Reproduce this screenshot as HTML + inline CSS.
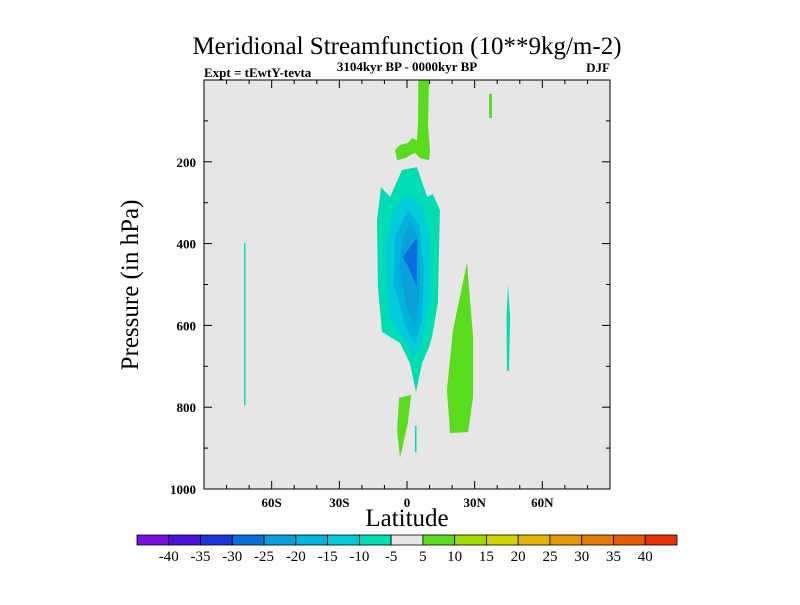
<!DOCTYPE html>
<html><head><meta charset="utf-8"><style>
body{margin:0;background:#fff}
svg text{font-family:"Liberation Serif",serif;fill:#000}
</style></head><body>
<svg id="c" width="800" height="600" viewBox="0 0 800 600">
<text x="407" y="54" font-size="25" text-anchor="middle">Meridional Streamfunction (10**9kg/m-2)</text>
<text x="204" y="77" font-size="13" font-weight="bold">Expt = tEwtY-tevta</text>
<text x="407" y="71" font-size="13" font-weight="bold" text-anchor="middle">3104kyr BP - 0000kyr BP</text>
<text x="610" y="72" font-size="13" font-weight="bold" text-anchor="end">DJF</text>
<rect x="204" y="80" width="406" height="409" fill="#e6e6e6"/>
<g id="fills"></g>
<rect x="204" y="80" width="406" height="409" fill="none" stroke="#000" stroke-width="1"/>
<g id="ticks"></g>
<text x="407" y="526" font-size="25" text-anchor="middle">Latitude</text>
<text transform="translate(138,285) rotate(-90)" font-size="25" text-anchor="middle">Pressure (in hPa)</text>
<g id="cbar"></g>
</svg>
<script>
const levels=[-40,-35,-30,-25,-20,-15,-10,-5,5,10,15,20,25,30,35,40];
const cbarColors=["#7a10dc","#4a10d8","#1e34d8","#0a6edc","#0aa0dc","#00b4dc","#00cdd7","#00dcb4","#e6e6e6","#5adc1e","#a0d800","#d2d200","#e6b400","#e69600","#e67800","#e65a00","#e63200"];
const xTickLats=[-60,-30,0,30,60];
const xTickLabels=["60S","30S","0","30N","60N"];
const yTickVals=[200,400,600,800,1000];
// contour regions: [colorIndex, [[lat,pressure],...]]
const regions=[
 [9,[[5,0],[9.8,0],[9.3,110],[10.2,171],[9.8,196],[5.8,191],[3.5,178],[-0.9,191],[-4.4,196],[-5.3,171],[-3.1,159],[0.4,154],[2.2,142],[4.4,147],[4.9,98]]],
 [9,[[36.4,34],[37.7,34],[37.7,93],[36.4,93]]],
 [7,[[4.4,213],[8.9,286],[11.5,279],[14.6,318],[13.7,545],[11.1,628],[9.8,653],[6.7,692],[4,763],[1.3,692],[-3.1,643],[-11.1,616],[-12.9,506],[-13.3,342],[-11.5,262],[-7.5,286],[-2.2,220]]],
 [6,[[-0.9,280],[6.2,300],[10.2,391],[10.2,538],[6.7,636],[3.1,680],[-0.9,640],[-8,580],[-9.8,416],[-6.2,318]]],
 [5,[[0.4,320],[5.3,350],[7.5,465],[6.7,587],[3.5,645],[-0.9,600],[-5.8,500],[-5.3,379]]],
 [4,[[1.3,345],[4.9,385],[5.8,513],[3.5,610],[0,560],[-3.5,460],[-2.2,391]]],
 [3,[[4.4,386],[4.4,506],[1.3,465],[-1.8,433],[0.4,416]]],
 [9,[[26.6,447],[29.3,628],[29.3,775],[27.1,861],[19.1,863],[17.7,758],[20.4,611]]],
 [7,[[44.8,501],[45.7,580],[45.2,711],[44.3,711],[44.1,580]]],
 [9,[[-3.5,777],[1.8,770],[0.4,838],[-3.1,924],[-4.4,856]]],
 [7,[[3.5,846],[4.2,846],[4.2,910],[3.5,910]]],
 [7,[[-72.2,399],[-71.6,399],[-71.6,795],[-72.2,795]]]
];
const NS="http://www.w3.org/2000/svg";
const X=lat=>407+lat*406/180;
const Y=p=>80+p*409/1000;
function mk(t,a,parent){const e=document.createElementNS(NS,t);for(const k in a)e.setAttribute(k,a[k]);parent.appendChild(e);return e;}
const fills=document.getElementById('fills');
regions.forEach((r,i)=>{
 const pg=mk('polygon',{points:r[1].map(q=>X(q[0]).toFixed(1)+','+Y(q[1]).toFixed(1)).join(' '),fill:cbarColors[r[0]]},fills);
 
 
});
const tk=document.getElementById('ticks');
for(let lat=-80;lat<=80;lat+=10){
 const major=lat%30===0, L=major?8:4;
 mk('line',{x1:X(lat),x2:X(lat),y1:489,y2:489-L,stroke:'#000'},tk);
 mk('line',{x1:X(lat),x2:X(lat),y1:80,y2:80+L,stroke:'#000'},tk);
}
xTickLats.forEach((lat,i)=>{
 const t=mk('text',{x:X(lat),y:507,'font-size':13,'font-weight':'bold','text-anchor':'middle'},tk);t.textContent=xTickLabels[i];
 
 
});
for(let p=100;p<1000;p+=100){
 const L=p%200===0?8:4;
 mk('line',{x1:204,x2:204+L,y1:Y(p),y2:Y(p),stroke:'#000'},tk);
 mk('line',{x1:610,x2:610-L,y1:Y(p),y2:Y(p),stroke:'#000'},tk);
}
yTickVals.forEach(p=>{
 const t=mk('text',{x:196,y:Y(p)+5,'font-size':13,'font-weight':'bold','text-anchor':'end'},tk);t.textContent=p;
 
 
});
const cb=document.getElementById('cbar');
const bw=540/cbarColors.length;
cbarColors.forEach((c,i)=>{
 const r=mk('rect',{x:137+i*bw,y:535,width:bw,height:10,fill:c,stroke:'#000','stroke-width':0.8},cb);
 
 
});
levels.forEach((v,i)=>{
 const t=mk('text',{x:137+(i+1)*bw,y:561,'font-size':15,'text-anchor':'middle'},cb);t.textContent=v;
 
 
});
</script>
</body></html>
